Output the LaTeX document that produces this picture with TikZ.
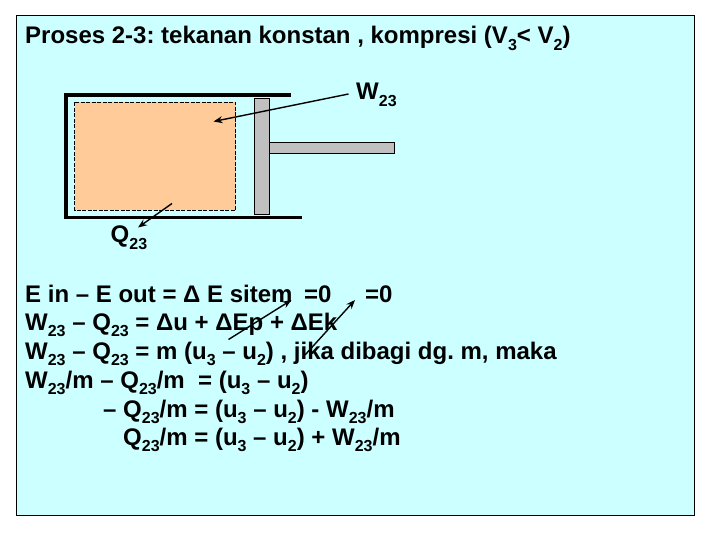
\documentclass[tikz,border=0pt]{standalone}
\usepackage{fontspec}
\setmainfont{Liberation Sans}
\usetikzlibrary{arrows.meta}
\definecolor{slidebg}{HTML}{CCFFFF}
\definecolor{gasfill}{HTML}{FFCC99}
\definecolor{pistonfill}{HTML}{C0C0C0}
\newcommand{\lowi}[1]{\raisebox{-0.27em}{\fontsize{16}{16}\selectfont #1}}
\frenchspacing
\tikzset{
  txt/.style={inner sep=0pt,anchor=base west,font=\fontsize{24}{28}\selectfont\bfseries},
  wall/.style={line width=3.6pt,line cap=rect},
  flow/.style={line width=1.4pt,-{Stealth[length=9pt,width=7pt]}},
}
\begin{document}
\begin{tikzpicture}[x=1pt,y=-1pt]
\useasboundingbox (0,0) rectangle (720,540);
\draw[line width=0.9pt,fill=slidebg] (16,15) rectangle (694,515);
\node[txt] (title) at (25,44) {Proses 2-3: tekanan konstan , kompresi (V\lowi{3}< V\lowi{2})};

\draw[wall] (289,95) -- (66,95) -- (66,217.5) -- (300.5,217.5);
\draw[fill=gasfill,dash pattern=on 4pt off 1.5pt,line width=0.4pt] (74.5,102.5) rectangle (235.5,210.5);
\draw[fill=pistonfill,line width=0.5pt] (254.5,98.5) rectangle (269.5,214.5);
\draw[fill=pistonfill,line width=0.5pt] (269.5,142.5) rectangle (394.5,153.5);

\node[txt] (w23) at (356,100) {W\lowi{23}};
\node[txt] (q23) at (110.5,243) {Q\lowi{23}};
\coordinate (wtail) at (348.5,94);
\coordinate (wtip) at (213.5,121.5);
\coordinate (qtail) at (172,203.5);
\coordinate (qtip) at (138,227.5);
\draw[flow] (wtail) -- (wtip);
\draw[flow] (qtail) -- (qtip);

\node[txt] (line1) at (25,302) {E in – E out = Δ E sitem};
\node[txt] (zeroa) at (304,302) {=0};
\node[txt] (zerob) at (365,302) {=0};
\node[txt] (line2) at (25,330.5) {W\lowi{23} – Q\lowi{23} = Δu + ΔEp + ΔEk};
\node[txt] (line3) at (25,359.5) {W\lowi{23} – Q\lowi{23} = m (u\lowi{3} – u\lowi{2}) , jika dibagi dg. m, maka};
\node[txt] (line4) at (25,388) {W\lowi{23}/m – Q\lowi{23}/m~ = (u\lowi{3} – u\lowi{2})};
\node[txt] (line5) at (103,417) {– Q\lowi{23}/m = (u\lowi{3} – u\lowi{2}) - W\lowi{23}/m};
\node[txt] (line6) at (123,445.5) {Q\lowi{23}/m = (u\lowi{3} – u\lowi{2}) + W\lowi{23}/m};

\coordinate (eptail) at (228.5,339.5);
\coordinate (eptip) at (291.5,300);
\coordinate (ektail) at (305,355);
\coordinate (ektip) at (355,300);
\draw[flow] (eptail) -- (eptip);
\draw[flow] (ektail) -- (ektip);
\end{tikzpicture}
\end{document}
